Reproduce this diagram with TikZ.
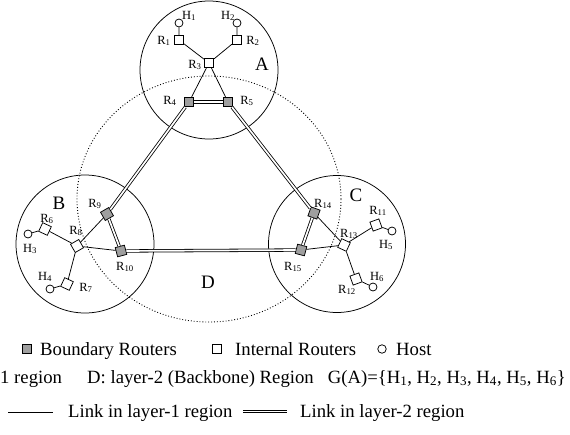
\documentclass[tikz,border=0pt]{standalone}
\usepackage{fontspec}
\setmainfont{Liberation Serif}
\usetikzlibrary{shapes.geometric}
\begin{document}
\begin{tikzpicture}[x=1pt,y=-1pt,
  ir/.style={draw, fill=white, minimum size=9.5pt, inner sep=0pt, line width=0.75pt},
  br/.style={ir, fill=gray!75},
  host/.style={draw, circle, fill=white, minimum size=8pt, inner sep=0pt, line width=0.75pt},
  lab/.style={font=\fontsize{12.5}{13}\selectfont, inner sep=0pt},
  big/.style={font=\fontsize{19}{20}\selectfont, inner sep=0pt},
  leg/.style={font=\fontsize{18.7}{19}\selectfont, inner sep=0pt, anchor=base west},
  region/.style={draw, line width=0.75pt},
  l1/.style={line width=0.75pt},
  l2/.style={double, double distance=1.7pt, line width=0.8pt}]
\useasboundingbox (0,0) rectangle (570,434);
% regions
\node[region, circle, minimum size=138pt] (A) at (209,70) {};
\node[region, circle, minimum size=138pt] (B) at (85,244) {};
\node[region, circle, minimum size=137pt] (C) at (337,244) {};
\node[draw, ellipse, dotted, line width=0.9pt, minimum width=264pt, minimum height=246pt] (D) at (209,199) {};
% region labels
\node[big] (lA) at (262,64) {A};
\node[big] (lB) at (59,203) {B};
\node[big] (lC) at (356,195) {C};
\node[big] (lD) at (208,282) {D};
% region A
\node[host] (H1) at (179,23) {};
\node[ir] (R1) at (179,40) {};
\node[host] (H2) at (237,23) {};
\node[ir] (R2) at (237,40) {};
\node[ir] (R3) at (209,63) {};
\node[br] (R4) at (189,102) {};
\node[br] (R5) at (228,102) {};
% region B
\node[host] (H3) at (28,234) {};
\node[ir, rotate=-25] (R6) at (45,229) {};
\node[ir, rotate=30] (R8) at (77,246) {};
\node[host] (H4) at (50,289) {};
\node[ir, rotate=-25] (R7) at (67,284) {};
\node[br, rotate=30] (R9) at (107,214) {};
\node[br, rotate=15] (R10) at (121,251) {};
% region C
\node[host] (H5) at (392,231) {};
\node[ir, rotate=20] (R11) at (376,225) {};
\node[ir, rotate=-25] (R13) at (344,245) {};
\node[host] (H6) at (373,287) {};
\node[ir, rotate=20] (R12) at (356,279) {};
\node[br, rotate=-20] (R14) at (314,213) {};
\node[br, rotate=-15] (R15) at (301,250) {};
% labels
\node[lab] (tH1) at (189,16) {H\textsubscript{1}};
\node[lab] (tH2) at (228,16) {H\textsubscript{2}};
\node[lab] (tR1) at (164,41) {R\textsubscript{1}};
\node[lab] (tR2) at (253,41) {R\textsubscript{2}};
\node[lab] (tR3) at (195,65) {R\textsubscript{3}};
\node[lab] (tR4) at (170,101) {R\textsubscript{4}};
\node[lab] (tR5) at (247,101) {R\textsubscript{5}};
\node[lab] (tR6) at (47,219) {R\textsubscript{6}};
\node[lab] (tH3) at (30,249) {H\textsubscript{3}};
\node[lab] (tR8) at (76,231) {R\textsubscript{8}};
\node[lab] (tR9) at (95,204) {R\textsubscript{9}};
\node[lab] (tR10) at (125,267) {R\textsubscript{10}};
\node[lab] (tH4) at (45,277) {H\textsubscript{4}};
\node[lab] (tR7) at (86,288) {R\textsubscript{7}};
\node[lab] (tR14) at (323,204) {R\textsubscript{14}};
\node[lab] (tR13) at (349,234) {R\textsubscript{13}};
\node[lab] (tR11) at (378,211) {R\textsubscript{11}};
\node[lab] (tH5) at (386,245) {H\textsubscript{5}};
\node[lab] (tR15) at (293,267) {R\textsubscript{15}};
\node[lab] (tR12) at (347,290) {R\textsubscript{12}};
\node[lab] (tH6) at (377,277) {H\textsubscript{6}};
% links
\draw[l1] (H1) -- (R1) (R1) -- (R3) (H2) -- (R2) (R2) -- (R3) (R3) -- (R4) (R3) -- (R5);
\draw[l1] (H3) -- (R6) (R6) -- (R8) (H4) -- (R7) (R7) -- (R8) (R8) -- (R9) (R8) -- (R10);
\draw[l1] (H5) -- (R11) (R11) -- (R13) (H6) -- (R12) (R12) -- (R13) (R13) -- (R14) (R13) -- (R15);
\draw[l2] (R4) -- (R5);
\draw[l2] (R4) -- (R9);
\draw[l2] (R9) -- (R10);
\draw[l2] (R10) -- (R15);
\draw[l2] (R15) -- (R14);
\draw[l2] (R14) -- (R5);
% legend
\node[br, minimum size=9pt] (kb) at (27,349) {};
\node[leg] (tb) at (40,355) {Boundary Routers};
\node[ir, minimum size=9pt] (ki) at (217,349) {};
\node[leg] (ti) at (235,355) {Internal Routers};
\node[host, minimum size=8.5pt] (kh) at (382,349) {};
\node[leg] (th) at (396,355) {Host};
\node[leg] (t1) at (0,383) {1 region};
\node[leg] (t2) at (87,383) {D: layer-2 (Backbone) Region};
\node[leg, anchor=base east] (t3) at (566,383) {G(A)=\{H\textsubscript{1}, H\textsubscript{2}, H\textsubscript{3}, H\textsubscript{4}, H\textsubscript{5}, H\textsubscript{6}\}};
\coordinate (a1) at (8,412);
\coordinate (a2) at (53,412);
\draw[l1] (a1) -- (a2);
\node[leg] (t4) at (68,417) {Link in layer-1 region};
\coordinate (b1) at (243,411.5);
\coordinate (b2) at (287,411.5);
\draw[l2] (b1) -- (b2);
\node[leg] (t5) at (300,417) {Link in layer-2 region};
\end{tikzpicture}
\end{document}
